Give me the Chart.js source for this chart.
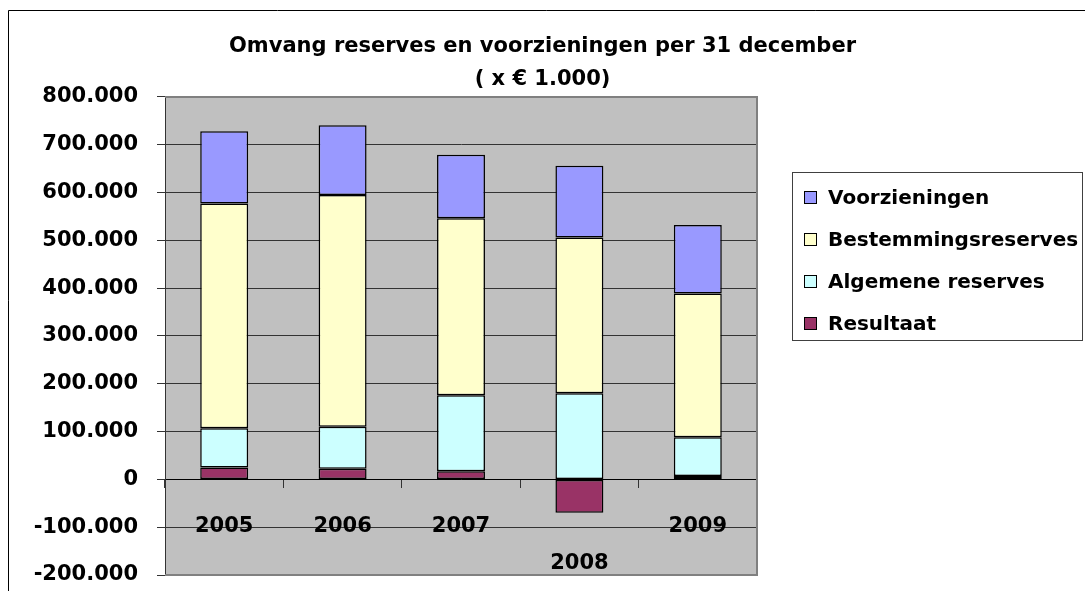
<!DOCTYPE html>
<html>
<head>
<meta charset="utf-8">
<script src="https://cdn.jsdelivr.net/npm/chart.js@4/dist/chart.umd.min.js"></script>
<style>
  body { margin: 0; background: #fff; }
  #chart { display: block; }
</style>
</head>
<body>
<canvas id="chart" width="1085" height="591"></canvas>
<script>
const years = ["2005", "2006", "2007", "2008", "2009"];
const resultaat = [25000, 22000, 17000, -70000, 7000];
const algemeneReserves = [82000, 88000, 159000, 180000, 81000];
const bestemmingsreserves = [470000, 485000, 370000, 326000, 301000];
const voorzieningen = [151000, 146000, 133000, 150000, 143000];
const titleLines = ["Omvang reserves en voorzieningen per 31 december", "( x € 1.000)"];

const FONT = "DejaVu Sans";

function fmtThousands(v) {
  const s = String(Math.abs(v)).replace(/\B(?=(\d{3})+(?!\d))/g, ".");
  return v < 0 ? "-" + s : s;
}

// white page + the thin frame round the chart object
const framePlugin = {
  id: "frame",
  beforeDraw(chart) {
    const { ctx, chartArea: a } = chart;
    ctx.save();
    ctx.fillStyle = "#fff";
    ctx.fillRect(0, 0, chart.width, chart.height);
    ctx.strokeStyle = "#000";
    ctx.lineWidth = 1;
    ctx.beginPath();
    ctx.moveTo(8.5, chart.height);
    ctx.lineTo(8.5, 10.5);
    ctx.lineTo(chart.width, 10.5);
    ctx.stroke();
    ctx.fillStyle = "#c0c0c0";
    ctx.fillRect(a.left, a.top, a.right - a.left, a.bottom - a.top);
    ctx.restore();
  },
  afterDraw(chart) {
    const { ctx, chartArea: a } = chart;
    ctx.save();
    ctx.strokeStyle = "#808080";
    ctx.lineWidth = 2;
    ctx.beginPath();
    ctx.moveTo(a.left, a.top);
    ctx.lineTo(a.right, a.top);
    ctx.lineTo(a.right, a.bottom);
    ctx.lineTo(a.left, a.bottom);
    ctx.stroke();
    ctx.restore();
  },
};

// boxed legend on the right, top item = top of the stack
const boxLegend = {
  id: "boxLegend",
  afterDraw(chart) {
    const { ctx } = chart;
    const x = 792.5, y = 172.5, w = 290, h = 168;
    ctx.save();
    ctx.strokeStyle = "#404040";
    ctx.lineWidth = 1;
    ctx.strokeRect(x, y, w, h);
    ctx.font = `bold 20px "${FONT}"`;
    ctx.textBaseline = "middle";
    const items = chart.data.datasets.slice().reverse();
    items.forEach((ds, i) => {
      const cy = 198 + i * 42;
      ctx.fillStyle = ds.backgroundColor;
      ctx.fillRect(804, cy - 7, 13, 13);
      ctx.strokeStyle = "#000";
      ctx.strokeRect(804.5, cy - 6.5, 12, 12);
      ctx.fillStyle = "#000";
      ctx.fillText(ds.label, 828, cy + 1);
    });
    ctx.restore();
  },
};

new Chart(document.getElementById("chart"), {
  type: "bar",
  data: {
    labels: years,
    datasets: [
      { label: "Resultaat", data: resultaat, backgroundColor: "#993366" },
      { label: "Algemene reserves", data: algemeneReserves, backgroundColor: "#ccffff" },
      { label: "Bestemmingsreserves", data: bestemmingsreserves, backgroundColor: "#ffffcc" },
      { label: "Voorzieningen", data: voorzieningen, backgroundColor: "#9999ff" },
    ],
  },
  options: {
    responsive: false,
    animation: false,
    layout: { padding: 0 },
    datasets: {
      bar: {
        borderColor: "#000",
        borderWidth: 1.5,
        borderSkipped: false,
        barPercentage: 0.405,
        categoryPercentage: 1,
      },
    },
    plugins: {
      legend: { display: false },
      tooltip: { enabled: false },
      title: {
        display: true,
        text: titleLines,
        color: "#000",
        font: { family: FONT, size: 21, weight: "bold", lineHeight: 1.57 },
        padding: { top: 30, bottom: 1 },
      },
    },
    scales: {
      x: {
        stacked: true,
        position: { y: 0 },
        afterFit: (scale) => { scale.height = 0; },
        border: { display: true, color: "#000", width: 1 },
        grid: { offset: true, drawOnChartArea: false, drawTicks: true, tickLength: 8, color: "#333" },
        ticks: {
          color: "#000",
          padding: 20,
          maxRotation: 0,
          autoSkip: false,
          font: { family: FONT, size: 21, weight: "bold", lineHeight: 1.78 },
          callback: (v, i) => (i === 3 ? ["", years[i]] : years[i]),
        },
      },
      y: {
        stacked: true,
        min: -200000,
        max: 800000,
        afterFit: (scale) => {
          scale.width = 165;
          scale.paddingTop = 0;
          scale.paddingBottom = 16;
        },
        border: { display: true, color: "#333", width: 1 },
        grid: { color: "#333", lineWidth: 1, tickLength: 8 },
        ticks: {
          stepSize: 100000,
          color: "#000",
          padding: 19,
          font: { family: FONT, size: 21, weight: "bold" },
          callback: (v) => fmtThousands(v),
        },
      },
      spacer: {
        type: "linear",
        position: "right",
        afterFit: (scale) => { scale.width = 328; },
        grid: { display: false },
        border: { display: false },
        ticks: { display: false },
      },
    },
  },
  plugins: [framePlugin, boxLegend],
});
</script>
</body>
</html>
